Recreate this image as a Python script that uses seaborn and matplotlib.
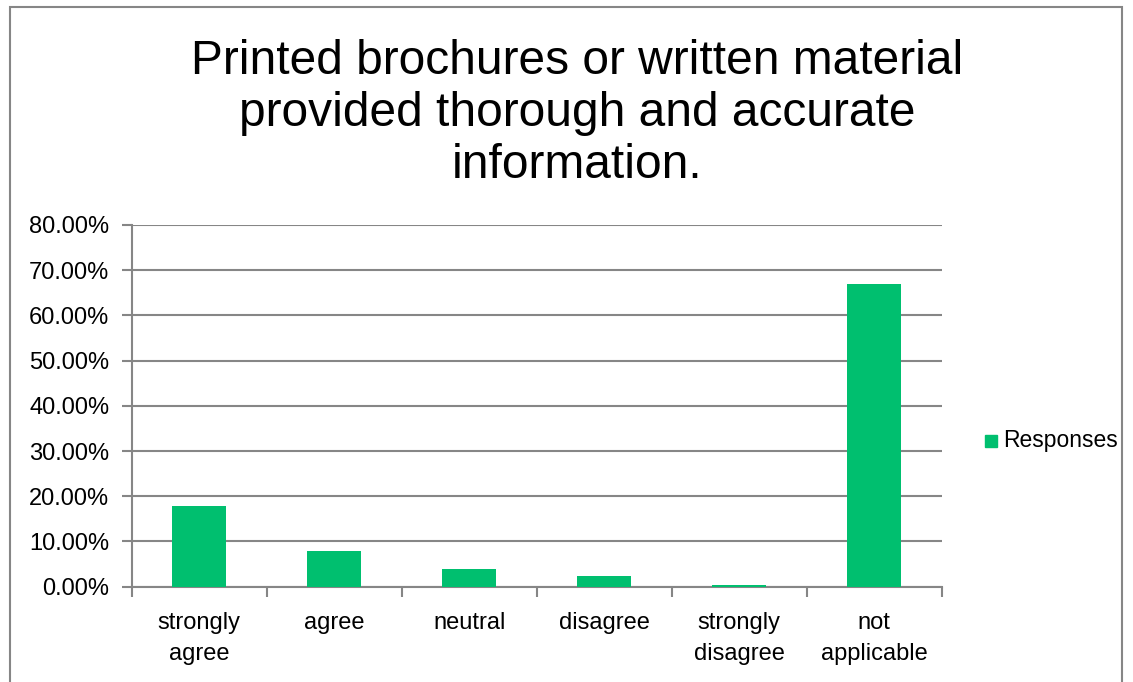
import matplotlib
matplotlib.use("Agg")
import matplotlib.pyplot as plt
from matplotlib.patches import Rectangle
from matplotlib.ticker import FuncFormatter, MultipleLocator
import seaborn as sns
import pandas as pd

categories = ["strongly\nagree", "agree", "neutral", "disagree", "strongly\ndisagree", "not\napplicable"]
responses = [17.78, 8.00, 4.00, 2.44, 0.44, 67.00]
series_name = "Responses"
title = "Printed brochures or written material\nprovided thorough and accurate\ninformation."

df = pd.DataFrame({"category": categories, "value": responses, "series": series_name})

sns.set_theme(style="white")
plt.rcParams["font.family"] = ["Liberation Sans", "DejaVu Sans"]

green = "#00BF6F"
grid_gray = "#868686"

fig = plt.figure(figsize=(11.33, 6.82), dpi=100)
ax = fig.add_axes([0.1162, 0.1397, 0.715, 0.5305])

sns.barplot(data=df, x="category", y="value", hue="series", palette=[green],
            width=0.4, ax=ax, legend=False, saturation=1, linewidth=0, zorder=3)

ax.set_ylim(0, 80)
ax.set_xlim(-0.5, len(categories) - 0.5)
ax.yaxis.set_major_locator(MultipleLocator(10))
ax.yaxis.set_major_formatter(FuncFormatter(lambda v, p: f"{v:.2f}%"))
ax.grid(axis="y", color=grid_gray, linewidth=1.5, zorder=1)
ax.set_axisbelow(True)
ax.set_xlabel("")
ax.set_ylabel("")

for side in ["top", "right"]:
    ax.spines[side].set_visible(False)
for side in ["left", "bottom"]:
    ax.spines[side].set_color(grid_gray)
    ax.spines[side].set_linewidth(1.5)
    ax.spines[side].set_zorder(2)

# category boundary ticks on x, labels centred under each bar
ax.set_xticks([i - 0.5 for i in range(len(categories) + 1)], minor=False)
ax.set_xticklabels([""] * (len(categories) + 1))
ax.set_xticks(range(len(categories)), minor=True)
ax.set_xticklabels(categories, minor=True, fontsize=17, color="black", linespacing=1.55)
ax.tick_params(axis="x", which="minor", length=0, pad=18)
ax.tick_params(axis="x", which="major", length=7, width=1.5, color=grid_gray, direction="out", bottom=True)
ax.tick_params(axis="y", length=7, width=1.5, color=grid_gray, direction="out", left=True,
               labelsize=17, labelcolor="black", pad=9)

fig.text(0.5093, 1 - 114 / 682, title, ha="center", va="center", fontsize=34.5,
         linespacing=1.2, color="black")

# legend entry
fig.patches.append(Rectangle((985 / 1133, 1 - 447 / 682), 12 / 1133, 12 / 682,
                             transform=fig.transFigure, color=green))
fig.text(1003 / 1133, 1 - 441 / 682, series_name, ha="left", va="center", fontsize=16.5, color="black")

# chart frame
fig.patches.append(Rectangle((10 / 1133, -0.02), 1112 / 1133, 1.02 - 7 / 682,
                             transform=fig.transFigure, fill=False, edgecolor=grid_gray, linewidth=1.5))

fig.savefig("out.png", dpi=100)
